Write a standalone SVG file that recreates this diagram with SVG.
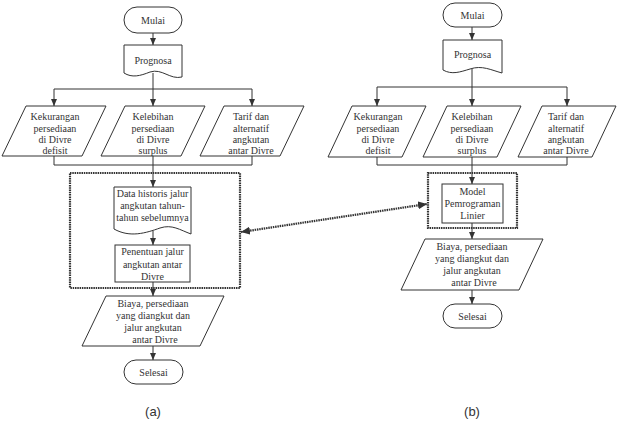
<svg xmlns="http://www.w3.org/2000/svg" width="617" height="426" viewBox="0 0 617 426">
<style>
.s{fill:#fff;stroke:#333;stroke-width:1}
.t{font-family:"Liberation Serif","Times New Roman",serif;font-size:10px;fill:#333;text-anchor:middle}
.c{fill:none;stroke:#333;stroke-width:1}
.d{fill:none;stroke:#333;stroke-width:2.2;stroke-dasharray:1.5 0.8}
.lbl{font-family:"Liberation Sans",Arial,sans-serif;font-size:13px;fill:#333;text-anchor:middle}
</style>
<defs>
<marker id="ah" markerUnits="userSpaceOnUse" markerWidth="8" markerHeight="6" refX="7" refY="3" orient="auto">
<path d="M0,0 L7,3 L0,6 z" fill="#333"/>
</marker>
<marker id="ah2" markerUnits="userSpaceOnUse" markerWidth="10" markerHeight="8" refX="9" refY="4" orient="auto-start-reverse">
<path d="M0,0 L9,4 L0,8 z" fill="#333"/>
</marker>
</defs>

<!-- ===== (a) ===== -->
<g id="a-mulai"><rect class="s" x="124" y="7" width="58" height="26" rx="13"/><text class="t" x="153" y="24">Mulai</text></g>
<g id="a-prognosa"><path class="s" d="M124,45 L182,45 L182,77 C170,80 162,68 150,72 C140,76 132,78 124,73 Z"/><text class="t" x="153" y="64">Prognosa</text></g>
<g id="a-kekurangan"><polygon class="s" points="26,106 106,106 82,156 2,156"/>
<text class="t" x="55" y="120">Kekurangan</text><text class="t" x="55" y="131.5">persediaan</text><text class="t" x="55" y="143">di Divre</text><text class="t" x="55" y="154">defisit</text></g>
<g id="a-kelebihan"><polygon class="s" points="125,106 205,106 181,156 101,156"/>
<text class="t" x="153" y="120">Kelebihan</text><text class="t" x="153" y="131.5">persediaan</text><text class="t" x="153" y="143">di Divre</text><text class="t" x="153" y="154">surplus</text></g>
<g id="a-tarif"><polygon class="s" points="224,106 304,106 280,156 200,156"/>
<text class="t" x="251" y="120">Tarif dan</text><text class="t" x="251" y="131.5">alternatif</text><text class="t" x="251" y="143">angkutan</text><text class="t" x="251" y="154">antar Divre</text></g>
<g id="a-group"><rect class="d" x="70" y="173" width="170" height="115"/></g>
<g id="a-data"><path class="s" d="M114,187 L191,187 L191,234 C180,230 172,224 160,228 C146,233 130,238 114,229 Z"/>
<text class="t" x="152.5" y="197">Data historis jalur</text><text class="t" x="152.5" y="209">angkutan tahun-</text><text class="t" x="152.5" y="221">tahun sebelumnya</text></g>
<g id="a-penentuan"><rect class="s" x="115" y="245" width="75" height="37"/>
<text class="t" x="152.5" y="255">Penentuan jalur</text><text class="t" x="152.5" y="267.5">angkutan antar</text><text class="t" x="152.5" y="280">Divre</text></g>
<g id="a-biaya"><polygon class="s" points="106,296 224,296 200,346 82,346"/>
<text class="t" x="153" y="307">Biaya, persediaan</text><text class="t" x="153" y="319">yang diangkut dan</text><text class="t" x="153" y="331">jalur angkutan</text><text class="t" x="155" y="343">antar Divre</text></g>
<g id="a-selesai"><rect class="s" x="124" y="360" width="59" height="24" rx="12"/><text class="t" x="153.5" y="375.5">Selesai</text></g>
<text class="lbl" x="153" y="416">(a)</text>

<!-- ===== (b) ===== -->
<g id="b-mulai"><rect class="s" x="443" y="3" width="59" height="24" rx="12"/><text class="t" x="472.5" y="18.5">Mulai</text></g>
<g id="b-prognosa"><path class="s" d="M443,40 L502,40 L502,73 C491,70 482,65 470,69 C460,72 452,75 443,70 Z"/><text class="t" x="472.5" y="58">Prognosa</text></g>
<g id="b-kekurangan"><polygon class="s" points="352,106 426,106 402,157 328,157"/>
<text class="t" x="378" y="120">Kekurangan</text><text class="t" x="378" y="131.5">persediaan</text><text class="t" x="378" y="143">di Divre</text><text class="t" x="378" y="154">defisit</text></g>
<g id="b-kelebihan"><polygon class="s" points="447,106 521,106 497,157 423,157"/>
<text class="t" x="472" y="120">Kelebihan</text><text class="t" x="472" y="131.5">persediaan</text><text class="t" x="472" y="143">di Divre</text><text class="t" x="472" y="154">surplus</text></g>
<g id="b-tarif"><polygon class="s" points="542,106 616,106 592,157 518,157"/>
<text class="t" x="566" y="120">Tarif dan</text><text class="t" x="566" y="131.5">alternatif</text><text class="t" x="566" y="143">angkutan</text><text class="t" x="566" y="154">antar Divre</text></g>
<g id="b-group"><rect class="d" x="428" y="173" width="89" height="55"/></g>
<g id="b-model"><rect class="s" x="442" y="184" width="61" height="39"/>
<text class="t" x="472.5" y="194.5">Model</text><text class="t" x="472.5" y="206.5">Pemrograman</text><text class="t" x="472.5" y="218.5">Linier</text></g>
<g id="b-biaya"><polygon class="s" points="425,239 543,239 519,290 401,290"/>
<text class="t" x="472" y="250">Biaya, persediaan</text><text class="t" x="472" y="262">yang diangkut dan</text><text class="t" x="472" y="274">jalur angkutan</text><text class="t" x="474" y="286">antar Divre</text></g>
<g id="b-selesai"><rect class="s" x="443" y="304" width="59" height="24" rx="12"/><text class="t" x="472.5" y="319.5">Selesai</text></g>
<text class="lbl" x="472" y="416">(b)</text>

<!-- ===== connectors ===== -->
<g id="connectors">
<line class="c" x1="153" y1="33" x2="153" y2="45" marker-end="url(#ah)"/>
<line class="c" x1="153" y1="73" x2="153" y2="89"/>
<line class="c" x1="54" y1="89" x2="252" y2="89"/>
<line class="c" x1="54" y1="89" x2="54" y2="106" marker-end="url(#ah)"/>
<line class="c" x1="153" y1="89" x2="153" y2="106" marker-end="url(#ah)"/>
<line class="c" x1="252" y1="89" x2="252" y2="106" marker-end="url(#ah)"/>
<line class="c" x1="54" y1="156" x2="54" y2="165"/>
<line class="c" x1="252" y1="156" x2="252" y2="165"/>
<line class="c" x1="54" y1="165" x2="252" y2="165"/>
<line class="c" x1="153" y1="156" x2="153" y2="187" marker-end="url(#ah)"/>
<line class="c" x1="153" y1="231" x2="153" y2="245" marker-end="url(#ah)"/>
<line class="c" x1="153" y1="282" x2="153" y2="296" marker-end="url(#ah)"/>
<line class="c" x1="153" y1="346" x2="153" y2="360" marker-end="url(#ah)"/>

<line class="c" x1="472" y1="27" x2="472" y2="40" marker-end="url(#ah)"/>
<line class="c" x1="472" y1="69" x2="472" y2="87"/>
<line class="c" x1="377" y1="87" x2="567" y2="87"/>
<line class="c" x1="377" y1="87" x2="377" y2="106" marker-end="url(#ah)"/>
<line class="c" x1="472" y1="87" x2="472" y2="106" marker-end="url(#ah)"/>
<line class="c" x1="567" y1="87" x2="567" y2="106" marker-end="url(#ah)"/>
<line class="c" x1="377" y1="157" x2="377" y2="165"/>
<line class="c" x1="567" y1="157" x2="567" y2="165"/>
<line class="c" x1="377" y1="165" x2="567" y2="165"/>
<line class="c" x1="472" y1="157" x2="472" y2="184" marker-end="url(#ah)"/>
<line class="c" x1="472" y1="223" x2="472" y2="239" marker-end="url(#ah)"/>
<line class="c" x1="472" y1="290" x2="472" y2="304" marker-end="url(#ah)"/>

<line class="d" x1="241" y1="232" x2="427" y2="204" marker-start="url(#ah2)" marker-end="url(#ah2)"/>
</g>
</svg>
